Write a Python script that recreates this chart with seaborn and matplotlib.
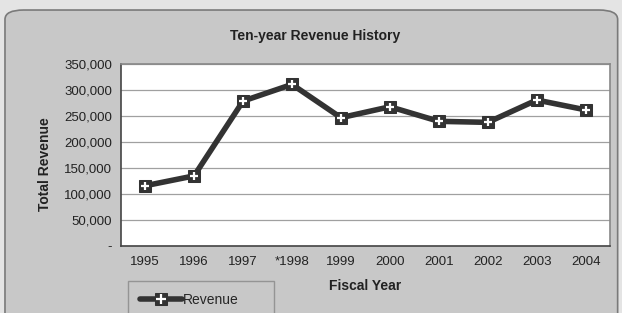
import numpy as np
import pandas as pd
import matplotlib
matplotlib.use('Agg')
import matplotlib.pyplot as plt
from matplotlib.patches import FancyBboxPatch
from matplotlib.lines import Line2D
import seaborn as sns

years = ['1995', '1996', '1997', '*1998', '1999', '2000', '2001', '2002', '2003', '2004']
revenue = [116000, 135000, 279000, 311000, 247000, 268000, 240000, 238000, 281000, 262000]
y_ticks = [0, 50000, 100000, 150000, 200000, 250000, 300000, 350000]
y_labels = ['-', '50,000', '100,000', '150,000', '200,000', '250,000', '300,000', '350,000']

df = pd.DataFrame({'Fiscal Year': years, 'Total Revenue': revenue})

sns.set_style('white')
plt.rcParams['font.family'] = ['Liberation Sans', 'DejaVu Sans']

fig = plt.figure(figsize=(6.22, 3.13), dpi=100, facecolor='#e4e4e4')
# rounded grey panel behind the chart
panel = FancyBboxPatch((0.008, -0.05), 0.985, 1.018, boxstyle='round,pad=0,rounding_size=0.03',
                       transform=fig.transFigure, facecolor='#c8c8c8', edgecolor='#7a7a7a',
                       linewidth=1.2, zorder=-10)
fig.patches.append(panel)

ax = fig.add_axes([0.194, 0.214, 0.787, 0.581])
ax.set_facecolor('white')

sns.lineplot(data=df, x='Fiscal Year', y='Total Revenue', ax=ax, color='#333333',
             linewidth=4, marker='s', markersize=9, markeredgecolor='#333333',
             label='Revenue', sort=False)
sns.scatterplot(data=df, x='Fiscal Year', y='Total Revenue', ax=ax, marker='+',
                s=40, color='white', linewidth=1.6, zorder=5, legend=False)

ax.set_xlim(-0.5, len(years) - 0.5)
ax.set_ylim(0, 350000)
ax.set_yticks(y_ticks)
ax.set_yticklabels(y_labels)
ax.yaxis.grid(True, color='#a0a0a0', linewidth=0.9)
ax.set_axisbelow(True)
ax.set_xticks(np.arange(len(years)))
ax.set_xticklabels(years)
ax.set_xticks(np.arange(len(years) + 1) - 0.5, minor=True)
ax.tick_params(axis='x', which='major', length=0, pad=7, labelsize=9.5, colors='#222222')
ax.tick_params(axis='x', which='minor', length=4, color='#555555')
ax.tick_params(axis='y', length=0, pad=6, labelsize=9.5, colors='#222222')

for side in ['left', 'bottom']:
    ax.spines[side].set_color('#444444')
    ax.spines[side].set_linewidth(1.2)
for side in ['top', 'right']:
    ax.spines[side].set_color('#888888')
    ax.spines[side].set_linewidth(1.2)

ax.set_xlabel('Fiscal Year', fontsize=10, fontweight='bold', color='#222222')
ax.xaxis.set_label_coords(0.5, -0.18)
ax.set_ylabel('Total Revenue', fontsize=10, fontweight='bold', color='#222222')
ax.yaxis.set_label_coords(-0.14, 0.45)
fig.text(0.507, 0.885, 'Ten-year Revenue History', ha='center', va='center',
         fontsize=10, fontweight='bold', color='#222222')

# legend handle: thick line + square marker with a white cross
handles, labels = ax.get_legend_handles_labels()
cross = Line2D([], [], linestyle='none', marker='+', markersize=7,
               markeredgewidth=1.6, color='white')
leg = ax.legend([(handles[0], cross)], labels, loc='upper left',
                bbox_to_anchor=(0.014, -0.36, 0.30, 0.17), mode='expand',
                frameon=True, fontsize=10, handlelength=3.0, handletextpad=0.1,
                borderpad=0.9, borderaxespad=0, fancybox=False)
leg.get_frame().set_facecolor('#c8c8c8')
leg.get_frame().set_edgecolor('#888888')

fig.savefig('out.png', dpi=100, facecolor=fig.get_facecolor())
